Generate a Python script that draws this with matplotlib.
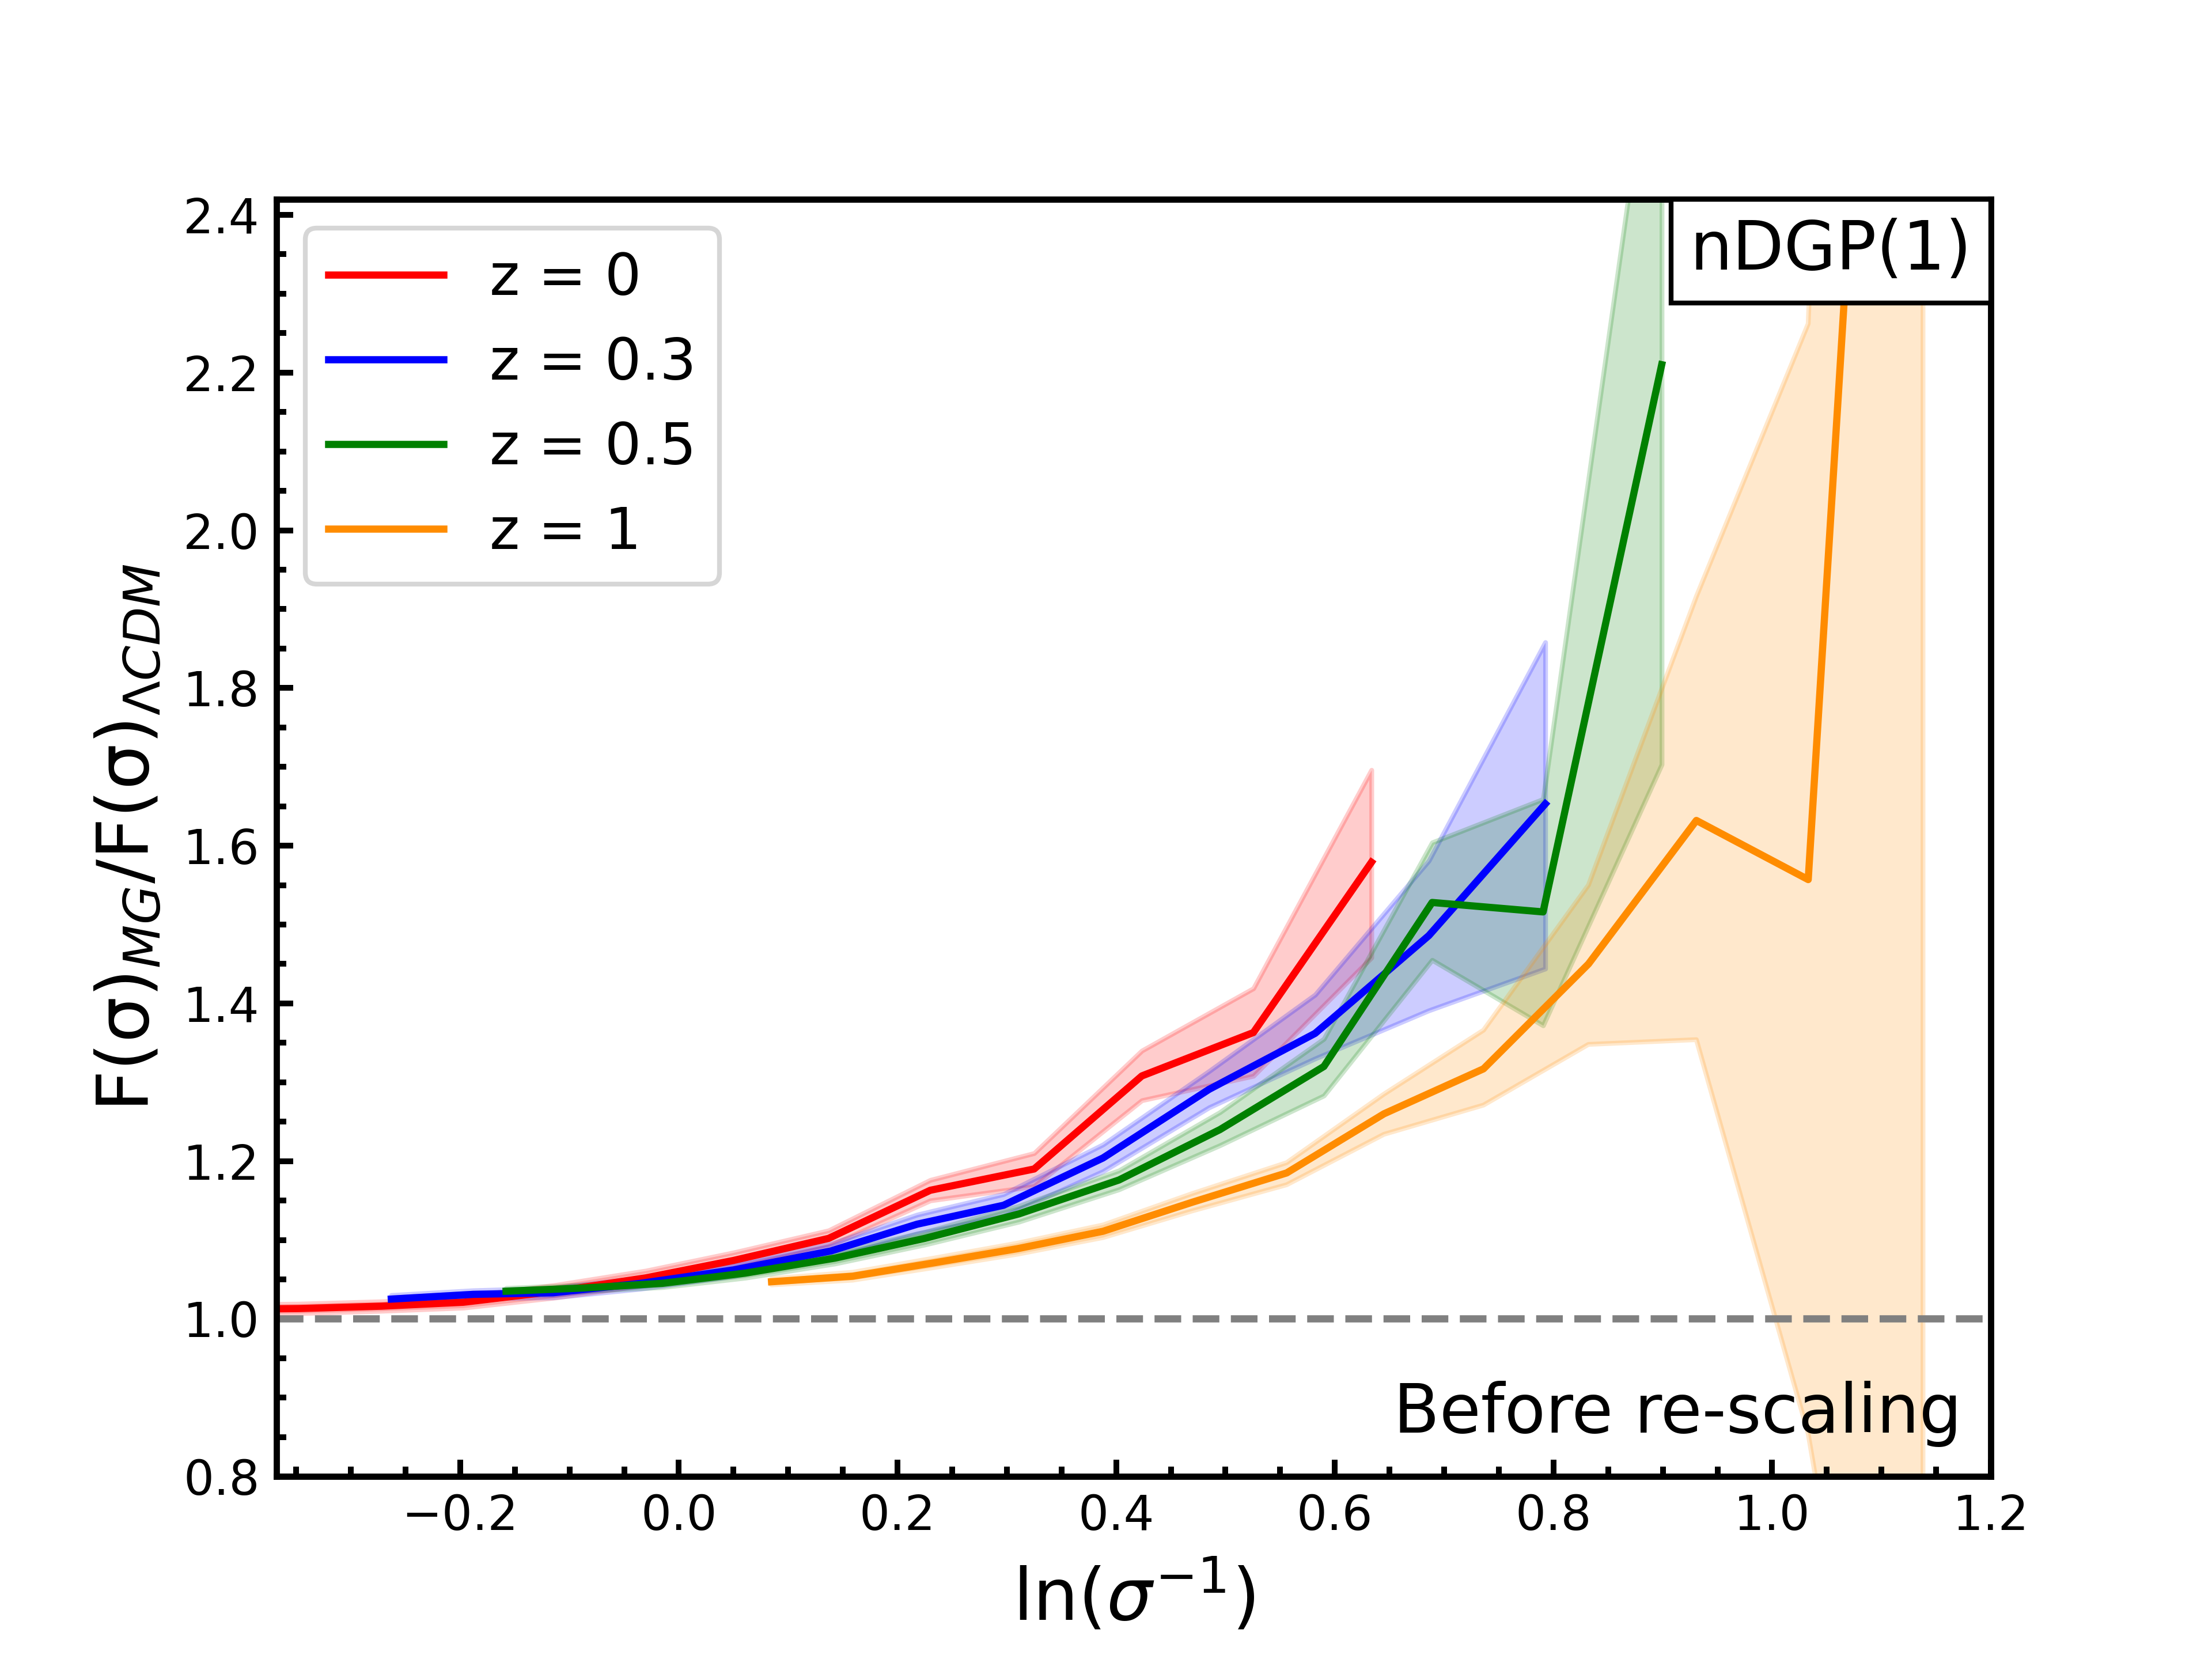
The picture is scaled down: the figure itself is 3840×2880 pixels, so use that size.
import matplotlib
matplotlib.use("Agg")
import matplotlib.pyplot as plt
from matplotlib.ticker import AutoMinorLocator
from matplotlib.offsetbox import AnchoredText

# ====== Data ======
labels = ["z = 0", "z = 0.3", "z = 0.5", "z = 1"]
colors = ["red", "blue", "green", "darkorange"]

x_z0 = [-0.42, -0.348, -0.272, -0.197, -0.112, -0.03, 0.05, 0.137, 0.23, 0.325, 0.4235, 0.5255, 0.6335]
y_z0 = [1.012, 1.013, 1.016, 1.021, 1.035, 1.052, 1.074, 1.102, 1.163, 1.190, 1.308, 1.363, 1.579]
lo_z0 = [1.006, 1.007, 1.010, 1.014, 1.027, 1.043, 1.064, 1.092, 1.150, 1.168, 1.277, 1.308, 1.458]
hi_z0 = [1.018, 1.019, 1.022, 1.028, 1.043, 1.061, 1.084, 1.112, 1.176, 1.210, 1.340, 1.419, 1.696]

x_z03 = [-0.263, -0.188, -0.115, -0.035, 0.05, 0.139, 0.218, 0.297, 0.388, 0.485, 0.582, 0.686, 0.7925]
y_z03 = [1.025, 1.031, 1.033, 1.045, 1.062, 1.086, 1.120, 1.144, 1.204, 1.291, 1.362, 1.486, 1.653]
lo_z03 = [1.020, 1.026, 1.027, 1.038, 1.054, 1.077, 1.108, 1.130, 1.187, 1.268, 1.330, 1.391, 1.444]
hi_z03 = [1.030, 1.036, 1.039, 1.052, 1.070, 1.095, 1.132, 1.158, 1.221, 1.314, 1.411, 1.581, 1.858]

x_z05 = [-0.158, -0.088, -0.015, 0.061, 0.143, 0.225, 0.311, 0.4025, 0.495, 0.59, 0.689, 0.7905, 0.899]
y_z05 = [1.035, 1.039, 1.045, 1.058, 1.077, 1.102, 1.133, 1.176, 1.240, 1.320, 1.528, 1.516, 2.210]
lo_z05 = [1.031, 1.035, 1.040, 1.052, 1.070, 1.094, 1.123, 1.164, 1.220, 1.283, 1.455, 1.372, 1.703]
hi_z05 = [1.039, 1.043, 1.050, 1.064, 1.084, 1.110, 1.143, 1.188, 1.262, 1.355, 1.604, 1.659, 2.720]

x_z1 = [0.0848, 0.159, 0.2335, 0.31, 0.388, 0.47, 0.556, 0.645, 0.736, 0.832, 0.9307, 1.033, 1.138]
y_z1 = [1.047, 1.054, 1.071, 1.089, 1.111, 1.148, 1.185, 1.260, 1.317, 1.450, 1.632, 1.557, 3.900]
lo_z1 = [1.043, 1.049, 1.065, 1.082, 1.103, 1.137, 1.170, 1.234, 1.271, 1.348, 1.354, 0.854, 0.000]
hi_z1 = [1.051, 1.059, 1.077, 1.096, 1.119, 1.159, 1.198, 1.285, 1.366, 1.550, 1.916, 2.262, 6.000]

xs = [x_z0, x_z03, x_z05, x_z1]
ys = [y_z0, y_z03, y_z05, y_z1]
los = [lo_z0, lo_z03, lo_z05, lo_z1]
his = [hi_z0, hi_z03, hi_z05, hi_z1]

# ====== Plot ======
fig, ax = plt.subplots(figsize=(6.4, 4.8), dpi=600)

for x, y, lo, hi, c, lab in zip(xs, ys, los, his, colors, labels):
    ax.fill_between(x, lo, hi, color=c, alpha=0.2)
    ax.plot(x, y, color=c, lw=1.5, label=lab)

ax.axhline(1.0, color="grey", ls="--", lw=1.5)

ax.set_xlim(-0.368, 1.2)
ax.set_ylim(0.8, 2.42)
ax.xaxis.set_minor_locator(AutoMinorLocator(4))
ax.yaxis.set_minor_locator(AutoMinorLocator(4))
ax.tick_params(which="both", direction="in", width=1.2)
for sp in ax.spines.values():
    sp.set_linewidth(1.3)

ax.set_xlabel(r"$\ln(\sigma^{-1})$", fontsize=15)
ax.set_ylabel(r"F(σ)$_{MG}$/F(σ)$_{\Lambda CDM}$", fontsize=15)

ax.legend(loc="upper left", fontsize=12)

at = AnchoredText("nDGP(1)", loc="upper right", prop=dict(size=14),
                  pad=0.28, borderpad=0, frameon=True)
at.patch.set_boxstyle("square,pad=0")
at.patch.set_linewidth(1.0)
ax.add_artist(at)

ax.text(0.983, 0.023, "Before re-scaling", transform=ax.transAxes,
        ha="right", va="bottom", fontsize=14)

fig.savefig("out.png", dpi=600)
